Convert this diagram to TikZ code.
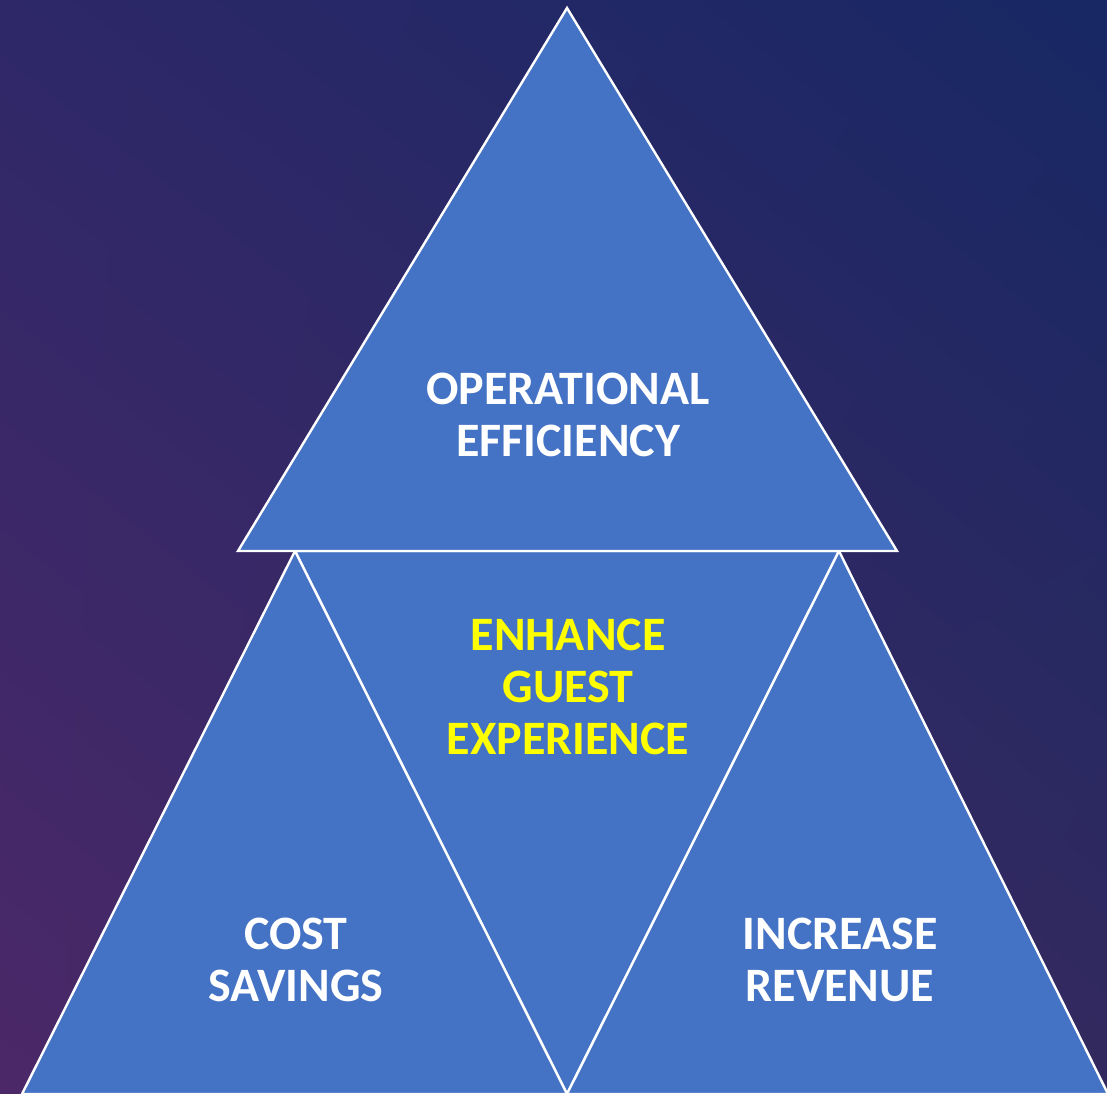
\documentclass[tikz,border=0pt]{standalone}
\usepackage{fontspec}
\setmainfont{Carlito}
\usepackage{tikz}
\usetikzlibrary{calc,shadings}
\definecolor{goalblue}{HTML}{4472C4}
\definecolor{goalyellow}{HTML}{FFFF00}
\definecolor{bgnavy}{HTML}{172864}
\definecolor{bgindigo}{HTML}{2E2868}
\definecolor{bgpurple}{HTML}{4C2868}
\definecolor{bgmid}{HTML}{33295F}
\tikzset{%
  goaltri/.style={%
    fill=goalblue,
    draw=white,
    line width=2.4pt,
    line join=miter
  },
  goallabel/.style={%
    text=white,
    align=center,
    font=\bfseries\fontsize{48}{52}\selectfont,
    inner sep=0pt
  },
  goalkey/.style={%
    goallabel,
    text=goalyellow
  }
}
\begin{document}
\begin{tikzpicture}[x=1pt,y=-1pt]
    \useasboundingbox (0,0) rectangle (1107,1093);
    \shade[upper left=bgindigo,upper right=bgnavy,lower left=bgpurple,lower right=bgmid]
      (0,0) rectangle (1107,1093);

    % corner points of the four triangles
    \coordinate (apex) at (567,8);
    \coordinate (ul) at (238,551);
    \coordinate (ur) at (897,551);
    \coordinate (ml) at (295,551);
    \coordinate (mr) at (839,551);
    \coordinate (bl) at (22,1094);
    \coordinate (bm) at (567,1094);
    \coordinate (br) at (1108,1094);

    \draw[goaltri] (ml) -- (mr) -- (bm) -- cycle;
    \draw[goaltri] (ml) -- (bm) -- (bl) -- cycle;
    \draw[goaltri] (mr) -- (br) -- (bm) -- cycle;
    \draw[goaltri] (apex) -- (ur) -- (ul) -- cycle;

    \node[goallabel] (ops) at (568,415) {OPERATIONAL\\EFFICIENCY};
    \node[goalkey] (guest) at (568,687) {ENHANCE\\GUEST\\EXPERIENCE};
    \node[goallabel] (cost) at (296,960) {COST\\SAVINGS};
    \node[goallabel] (rev) at (840,960) {INCREASE\\REVENUE};
\end{tikzpicture}
\end{document}
